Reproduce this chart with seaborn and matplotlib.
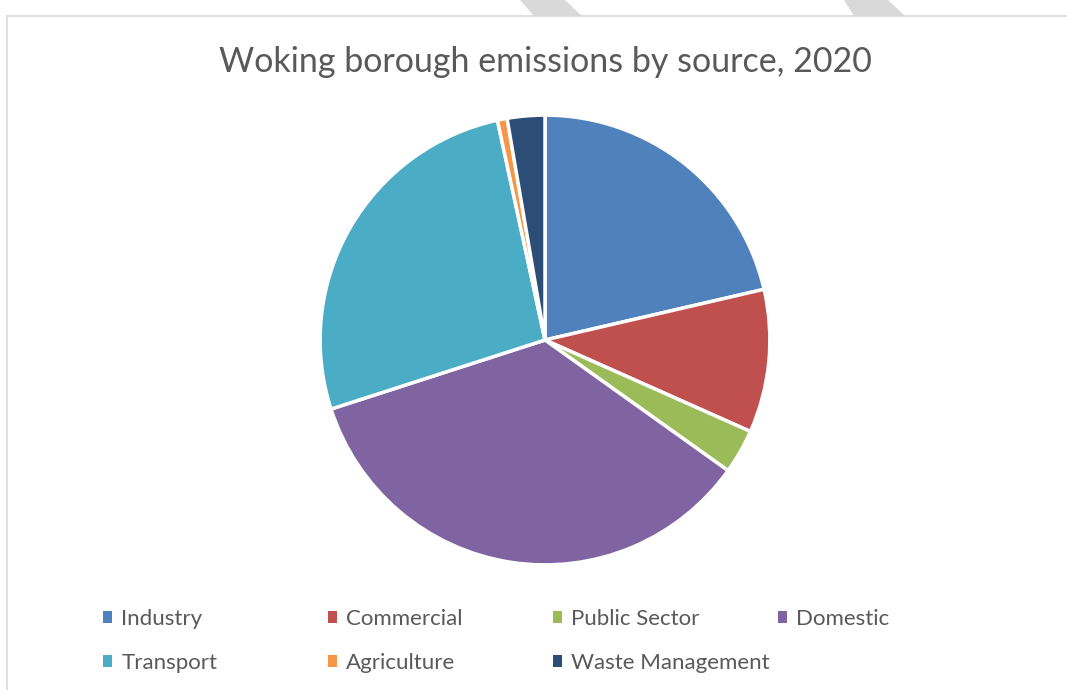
import matplotlib
matplotlib.use("Agg")
import matplotlib.pyplot as plt
import seaborn as sns
from matplotlib.patches import Patch, Polygon, Rectangle

categories = ["Industry", "Commercial", "Public Sector", "Domestic",
              "Transport", "Agriculture", "Waste Management"]
values = [21.4, 10.3, 3.2, 35.2, 26.6, 0.7, 2.7]
colors = ["#4F81BD", "#C0504D", "#9BBB59", "#8064A2",
          "#4BACC6", "#F79646", "#2C4D75"]
title = "Woking borough emissions by source, 2020"

sns.set_theme(style="white")
plt.rcParams["font.family"] = ["Lato", "DejaVu Sans"]
palette = sns.color_palette(colors)

W, H = 1067, 690
fig = plt.figure(figsize=(W / 100, H / 100), dpi=100)
fig.patch.set_facecolor("white")

# decorative background stripes and chart border
for pts in ([(520, 0), (565, 0), (582, 16), (534, 16)],
            [(844, 0), (888, 0), (905, 16), (854, 16)]):
    fig.patches.append(Polygon([(x / W, 1 - y / H) for x, y in pts],
                               closed=True, transform=fig.transFigure,
                               facecolor="#D9D9D9", edgecolor="none", zorder=-2))
fig.patches.append(Rectangle((7 / W, -0.05), 1.2, 1 - 16 / H + 0.05,
                             transform=fig.transFigure, facecolor="white",
                             edgecolor="#D9D9D9", linewidth=1.2, zorder=-1))

cx, cy, r = 545, 340, 226
ax = fig.add_axes([(cx - r) / W, 1 - (cy + r) / H, 2 * r / W, 2 * r / H])
ax.set_zorder(2)
ax.patch.set_alpha(0)
ax.pie(values, colors=palette, startangle=90, counterclock=False, radius=1,
       wedgeprops=dict(edgecolor="white", linewidth=2.5))
ax.set_xlim(-1.005, 1.005)
ax.set_ylim(-1.005, 1.005)
ax.set_aspect("equal")
ax.axis("off")

fig.text(545 / W, 1 - 62 / H, title, ha="center", va="center",
         fontsize=24.5, color="#595959", fontweight="normal", zorder=3)

col_x = [103, 328, 553, 778]
row_y = [619, 663]
for i, (cat, col) in enumerate(zip(categories, palette)):
    x = col_x[i % 4]
    y = row_y[i // 4]
    leg = fig.legend(handles=[Patch(facecolor=col, edgecolor="none")], labels=[cat],
                     loc="center left", bbox_to_anchor=(x / W, 1 - y / H),
                     frameon=False, fontsize=16, handlelength=0.42,
                     handleheight=0.42, handletextpad=0.4, borderpad=0,
                     borderaxespad=0, labelcolor="#595959")
    leg.set_zorder(3)

fig.savefig("out.png", dpi=100, facecolor="white")
